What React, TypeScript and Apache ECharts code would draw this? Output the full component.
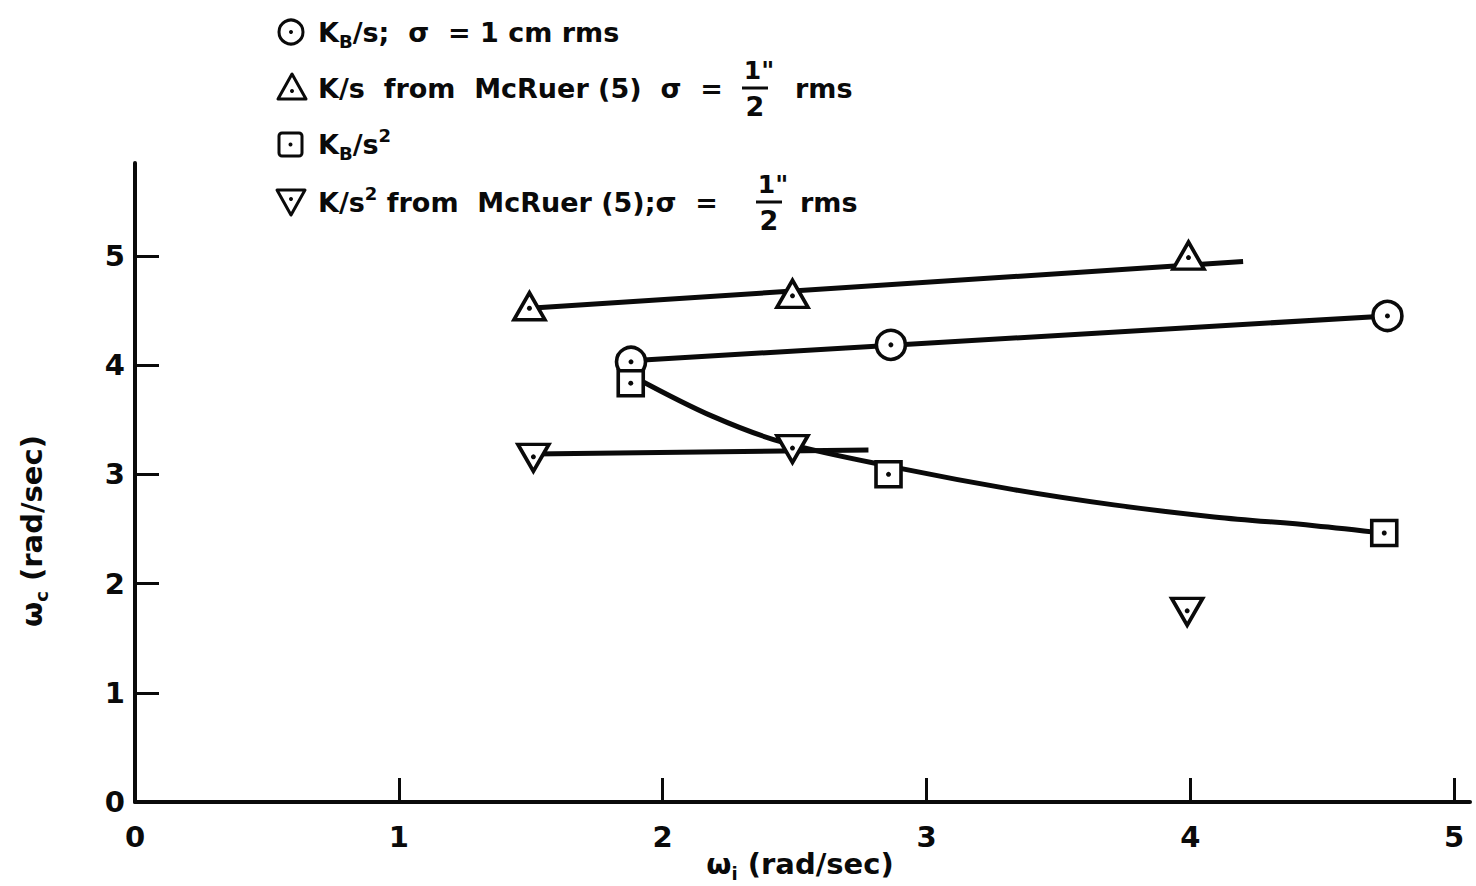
import React, { useEffect, useRef } from 'react';
import * as echarts from 'echarts';

// ---- data ----
const xTickValues = [0, 1, 2, 3, 4, 5];
const yTickValues = [0, 1, 2, 3, 4, 5];

// K_B/s ; sigma = 1 cm rms (circles)
const circleX = [1.88, 2.865, 4.747];
const circleY = [4.03, 4.185, 4.45];
// K/s from McRuer (triangles up)
const triUpX = [1.495, 2.492, 3.993];
const triUpY = [4.52, 4.634, 4.984];
// K_B/s^2 (squares)
const squareX = [1.879, 2.856, 4.735];
const squareY = [3.834, 3.0, 2.463];
// K/s^2 from McRuer (triangles down)
const triDownX = [1.51, 2.492, 3.988];
const triDownY = [3.16, 3.24, 1.75];

// faired curves drawn through the points
const circleFitX = [1.88, 4.747];
const circleFitY = [4.04, 4.45];
const triUpFitX = [1.495, 4.2];
const triUpFitY = [4.52, 4.948];
const triDownFitX = [1.51, 2.78];
const triDownFitY = [3.187, 3.223];
const squareCurveX = [1.9, 2.19, 2.46, 2.91, 3.33, 3.71, 4.09, 4.47, 4.74];
const squareCurveY = [3.88, 3.53, 3.29, 3.05, 2.86, 2.72, 2.61, 2.53, 2.46];

const FONT = '"DejaVu Sans", "Liberation Sans", sans-serif';
const INK = '#0a0a0a';

const pairs = (xs: number[], ys: number[]) => xs.map((x, i) => [x, ys[i]]);

const lineSeries = (xs: number[], ys: number[], smooth: number | boolean = false) => ({
  type: 'line',
  data: pairs(xs, ys),
  showSymbol: false,
  symbol: 'none',
  smooth,
  lineStyle: { color: INK, width: 5, opacity: 1 },
  z: 2,
  silent: true,
});

const markerSeries = (
  xs: number[],
  ys: number[],
  symbol: string,
  size: number | number[],
  rotate = 0,
  offset: number[] = [0, 0]
) => ({
  type: 'scatter',
  data: pairs(xs, ys),
  symbol,
  symbolSize: size,
  symbolRotate: rotate,
  symbolOffset: offset,
  itemStyle: { color: '#fff', borderColor: INK, borderWidth: 3.6, opacity: 1 },
  z: 3,
  silent: true,
});

const dotSeries = (xs: number[], ys: number[]) => ({
  type: 'scatter',
  data: pairs(xs, ys),
  symbol: 'circle',
  symbolSize: 5,
  itemStyle: { color: INK, opacity: 1 },
  z: 4,
  silent: true,
});

const richBase = {
  t: { fontSize: 27, fontFamily: FONT, fontWeight: 'bold', lineHeight: 36, color: INK },
  s: { fontSize: 18, fontFamily: FONT, fontWeight: 'bold', lineHeight: 14, verticalAlign: 'bottom', color: INK },
  p: { fontSize: 18, fontFamily: FONT, fontWeight: 'bold', lineHeight: 15, verticalAlign: 'top', color: INK },
};

const richAxis = {
  t: { fontSize: 29, fontFamily: FONT, fontWeight: 'bold', lineHeight: 36, color: INK },
  s: { fontSize: 18, fontFamily: FONT, fontWeight: 'bold', lineHeight: 16, verticalAlign: 'bottom', color: INK },
};

const legendText = (x: number, y: number, text: string) => ({
  type: 'text',
  x,
  y,
  style: {
    text,
    rich: richBase,
    fill: INK,
    fontFamily: FONT,
    fontSize: 27,
    fontWeight: 'bold',
    verticalAlign: 'middle',
    align: 'left',
  },
});

const fraction = (cx: number, cy: number) => [
  {
    type: 'text',
    x: cx + 4,
    y: cy - 18,
    style: { text: '1"', fill: INK, fontFamily: FONT, fontSize: 25, fontWeight: 'bold', align: 'center', verticalAlign: 'middle' },
  },
  { type: 'rect', shape: { x: cx - 13, y: cy - 1.5, width: 26, height: 3 }, style: { fill: INK } },
  {
    type: 'text',
    x: cx,
    y: cy + 18,
    style: { text: '2', fill: INK, fontFamily: FONT, fontSize: 27, fontWeight: 'bold', align: 'center', verticalAlign: 'middle' },
  },
];

export default function App() {
  const ref = useRef<HTMLDivElement>(null);

  useEffect(() => {
    if (!ref.current) return;
    const chart = echarts.init(ref.current, undefined, { renderer: 'svg' });

    const axisLabelStyle = {
      color: INK,
      fontFamily: FONT,
      fontSize: 29,
      fontWeight: 'bold',
    };

    const option: any = {
      animation: false,
      backgroundColor: '#ffffff',
      grid: { left: 135, right: 6, top: 163, bottom: 84, containLabel: false },
      xAxis: {
        type: 'value',
        min: 0,
        max: 5.06,
        interval: 1,
        axisLine: { show: true, onZero: false, lineStyle: { color: INK, width: 4 } },
        axisTick: { show: true, inside: true, length: 24, lineStyle: { color: INK, width: 3 }, customValues: xTickValues },
        axisLabel: { ...axisLabelStyle, margin: 20, customValues: xTickValues, formatter: (v: number) => String(v) },
        splitLine: { show: false },
      },
      yAxis: {
        type: 'value',
        min: 0,
        max: 5.85,
        interval: 1,
        axisLine: { show: true, onZero: false, lineStyle: { color: INK, width: 4 } },
        axisTick: { show: true, inside: true, length: 24, lineStyle: { color: INK, width: 3 }, customValues: yTickValues },
        axisLabel: { ...axisLabelStyle, margin: 10, customValues: yTickValues, formatter: (v: number) => String(v) },
        splitLine: { show: false },
      },
      series: [
        lineSeries(triUpFitX, triUpFitY),
        lineSeries(circleFitX, circleFitY),
        lineSeries(triDownFitX, triDownFitY),
        lineSeries(squareCurveX, squareCurveY, 0.35),
        markerSeries(triUpX, triUpY, 'triangle', [31, 27], 0, [0, -2]),
        markerSeries(circleX, circleY, 'circle', 29),
        markerSeries(squareX, squareY, 'rect', 25),
        markerSeries(triDownX, triDownY, 'triangle', [31, 27], 180, [0, 1]),
        dotSeries(circleX, circleY),
        dotSeries(triUpX, triUpY),
        dotSeries(squareX, squareY),
        dotSeries(triDownX, triDownY),
      ],
      graphic: {
        elements: [
          // legend markers
          { type: 'circle', shape: { cx: 291, cy: 32, r: 12 }, style: { fill: '#fff', stroke: INK, lineWidth: 3 } },
          { type: 'circle', shape: { cx: 291, cy: 32, r: 2 }, style: { fill: INK } },
          { type: 'polygon', shape: { points: [[292, 74], [278, 99], [306, 99]] }, style: { fill: '#fff', stroke: INK, lineWidth: 3, lineJoin: 'round' } },
          { type: 'circle', shape: { cx: 292, cy: 91, r: 2 }, style: { fill: INK } },
          { type: 'rect', shape: { x: 279, y: 133, width: 23, height: 23, r: 3 }, style: { fill: '#fff', stroke: INK, lineWidth: 3 } },
          { type: 'circle', shape: { cx: 290.5, cy: 144.5, r: 2 }, style: { fill: INK } },
          { type: 'polygon', shape: { points: [[277, 190], [305, 190], [291, 215]] }, style: { fill: '#fff', stroke: INK, lineWidth: 3, lineJoin: 'round' } },
          { type: 'circle', shape: { cx: 291, cy: 199, r: 2 }, style: { fill: INK } },
          // legend texts
          legendText(318, 32, '{t|K}{s|B}{t|/s;  σ  = 1 cm rms}'),
          legendText(318, 88, '{t|K/s  from  McRuer (5)  σ  =}'),
          ...fraction(755, 88),
          legendText(795, 88, '{t|rms}'),
          legendText(318, 144, '{t|K}{s|B}{t|/s}{p|2}'),
          legendText(318, 202, '{t|K/s}{p|2}{t| from  McRuer (5);σ  =}'),
          ...fraction(769, 202),
          legendText(800, 202, '{t|rms}'),
          // axis names
          {
            type: 'text',
            x: 32,
            y: 531,
            rotation: Math.PI / 2,
            style: {
              text: '{t|ω}{s|c}{t| (rad/sec)}',
              rich: richAxis,
              fill: INK,
              align: 'center',
              verticalAlign: 'middle',
            },
          },
          {
            type: 'text',
            x: 800,
            y: 864,
            style: {
              text: '{t|ω}{s|i}{t| (rad/sec)}',
              rich: richAxis,
              fill: INK,
              align: 'center',
              verticalAlign: 'middle',
            },
          },
        ],
      },
    };

    chart.setOption(option);
    return () => chart.dispose();
  }, []);

  return (
    <div
      ref={ref}
      style={{ position: 'fixed', left: 0, top: 0, width: 1476, height: 886, background: '#fff' }}
    />
  );
}
